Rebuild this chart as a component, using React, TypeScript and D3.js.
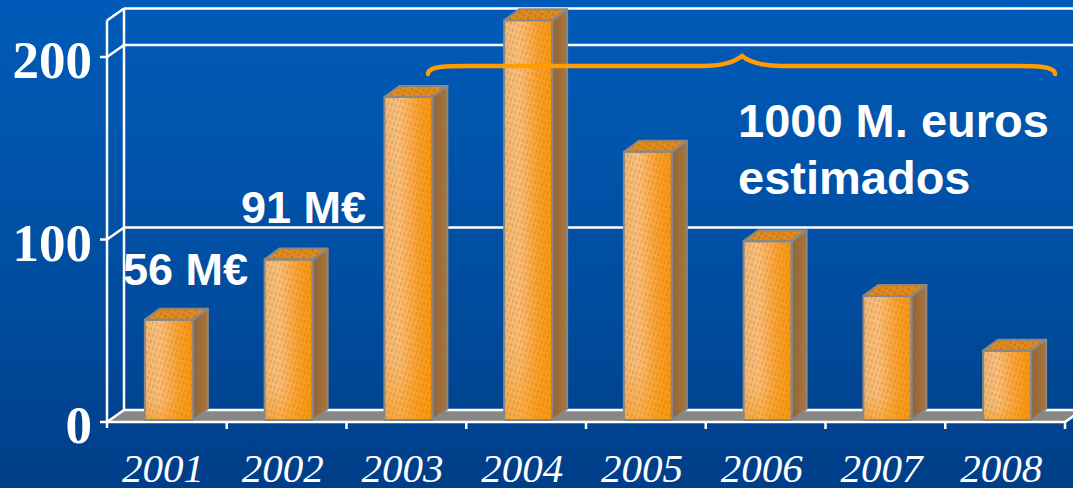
import React from 'react';
import * as d3 from 'd3';

const years = ['2001', '2002', '2003', '2004', '2005', '2006', '2007', '2008'];
const values = [55, 88, 177, 219, 147, 98, 68, 38];
const yTicks = [0, 100, 200];
const barLabels = [
  { text: '56 M€', x: 123, y: 285 },
  { text: '91 M€', x: 241, y: 223 },
];
const noteLines = ['1000 M. euros', 'estimados'];

const W = 1073;
const H = 488;
const X0 = 107;
const X1 = 1065;
const Y0 = 422;
const DX = 17; // wall depth
const DY = -12;
const BDX = 15; // bar depth
const BDY = -11;
const BAR_W = 48;

export default function App() {
  const x = d3.scaleBand<string>().domain(years).range([X0, X1]).paddingInner(0).paddingOuter(0);
  const y = d3.scaleLinear().domain([0, 220]).range([Y0, 20.5]);
  const bw = x.bandwidth();
  const top = y(220);

  const bx0 = 428, bx1 = 1055, bmid = 742, byLine = 66, byEnd = 74, byPeak = 56;
  const brace = d3.path();
  brace.moveTo(bx0, byEnd);
  brace.bezierCurveTo(bx0, byLine, bx0 + 20, byLine, bx0 + 40, byLine);
  brace.lineTo(bmid - 40, byLine);
  brace.bezierCurveTo(bmid - 15, byLine, bmid - 5, byPeak + 4, bmid, byPeak);
  brace.bezierCurveTo(bmid + 5, byPeak + 4, bmid + 15, byLine, bmid + 40, byLine);
  brace.lineTo(bx1 - 40, byLine);
  brace.bezierCurveTo(bx1 - 20, byLine, bx1, byLine, bx1, byEnd);

  return (
    <svg width={W} height={H} style={{ position: 'absolute', left: 0, top: 0 }}>
      <defs>
        <linearGradient id="bg" x1="0" y1="0" x2="0" y2="1">
          <stop offset="0" stopColor="#005bb8" />
          <stop offset="0.6" stopColor="#004d9f" />
          <stop offset="1" stopColor="#003e88" />
        </linearGradient>
        <linearGradient id="front" x1="0" y1="0" x2="1" y2="0">
          <stop offset="0" stopColor="#f4b870" />
          <stop offset="0.3" stopColor="#ffc078" />
          <stop offset="0.7" stopColor="#ffa026" />
          <stop offset="1" stopColor="#ff9600" />
        </linearGradient>
        <linearGradient id="frontV" x1="0" y1="0" x2="0" y2="1">
          <stop offset="0" stopColor="#ff9900" stopOpacity="0" />
          <stop offset="0.8" stopColor="#ff9900" stopOpacity="0.05" />
          <stop offset="1" stopColor="#ff9900" stopOpacity="0.5" />
        </linearGradient>
        <linearGradient id="side" x1="0" y1="0" x2="1" y2="0">
          <stop offset="0" stopColor="#8e643a" />
          <stop offset="1" stopColor="#b07430" />
        </linearGradient>
        <pattern id="hatch" width="4" height="6" patternUnits="userSpaceOnUse" patternTransform="rotate(18)">
          <line x1="1" y1="0" x2="1" y2="4" stroke="#85786c" strokeWidth="1" strokeOpacity="0.55" />
        </pattern>
        <pattern id="cross" width="5" height="5" patternUnits="userSpaceOnUse" patternTransform="rotate(30)">
          <rect x="0" y="0" width="2.5" height="2.5" fill="#9a6a30" fillOpacity="0.5" />
        </pattern>
      </defs>

      <rect x={0} y={0} width={W} height={H} fill="url(#bg)" />

      <path
        d={`M${X0},${Y0} L${X1},${Y0} L${X1 + DX},${Y0 + DY} L${X0 + DX},${Y0 + DY} Z`}
        fill="#878787"
      />

      <g stroke="#ffffff" strokeWidth={2.5} fill="none">
        {[...yTicks, 220].map((t) => (
          <line key={'g' + t} x1={X0 + DX} x2={W + 20} y1={y(t) + DY} y2={y(t) + DY} />
        ))}
        {[...yTicks, 220].map((t) => (
          <line key={'s' + t} x1={X0} x2={X0 + DX} y1={y(t)} y2={y(t) + DY} />
        ))}
        <line x1={X0 + DX} x2={X0 + DX} y1={top + DY} y2={Y0 + DY} />
        <line x1={X0} x2={X0} y1={top} y2={Y0 + 6} />
        <line x1={X0} x2={X1} y1={Y0} y2={Y0} />
        <line x1={X1} x2={X1 + DX} y1={Y0} y2={Y0 + DY} />
        {yTicks.map((t) => (
          <line key={'t' + t} x1={X0 - 7} x2={X0} y1={y(t)} y2={y(t)} />
        ))}
        {years.slice(1).concat(['end']).map((yr, i) => {
          const xx = X0 + (i + 1) * bw;
          return <line key={'xt' + yr} x1={xx} x2={xx} y1={Y0} y2={Y0 + 7} />;
        })}
      </g>

      {years.map((yr, i) => {
        const fx = (x(yr) as number) + (bw - BAR_W) / 2 + 2;
        const base = y(0) - 2;
        const ty = y(values[i]) - 2;
        const fw = BAR_W;
        const sidePath = `M${fx + fw},${ty} L${fx + fw + BDX},${ty + BDY} L${fx + fw + BDX},${base + BDY} L${fx + fw},${base} Z`;
        const topPath = `M${fx},${ty} L${fx + BDX},${ty + BDY} L${fx + fw + BDX},${ty + BDY} L${fx + fw},${ty} Z`;
        return (
          <g key={yr}>
            <path d={sidePath} fill="url(#side)" />
            <path d={sidePath} fill="url(#hatch)" />
            <path d={topPath} fill="#e48a1a" />
            <path d={topPath} fill="url(#cross)" />
            <rect x={fx} y={ty} width={fw} height={base - ty} fill="url(#front)" />
            <rect x={fx} y={ty} width={fw} height={base - ty} fill="url(#frontV)" />
            <rect x={fx} y={ty} width={fw} height={base - ty} fill="url(#hatch)" />
            <g fill="none" stroke="#888888" strokeWidth={2} strokeLinejoin="round">
              <path d={sidePath} />
              <path d={topPath} />
              <rect x={fx} y={ty} width={fw} height={base - ty} />
            </g>
          </g>
        );
      })}

      <path d={brace.toString()} fill="none" stroke="#ff9c00" strokeWidth={4.5} strokeLinecap="round" />

      {yTicks.map((t) => (
        <text
          key={'yl' + t}
          x={92}
          y={y(t) + 21}
          textAnchor="end"
          fill="#ffffff"
          fontFamily="'Liberation Serif', 'Times New Roman', serif"
          fontWeight="bold"
          fontSize={53}
        >
          {t}
        </text>
      ))}

      {years.map((yr) => (
        <text
          key={'xl' + yr}
          x={(x(yr) as number) + bw / 2 - 4}
          y={482}
          textAnchor="middle"
          fill="#ffffff"
          fontFamily="'Liberation Serif', 'Times New Roman', serif"
          fontStyle="italic"
          fontSize={41}
        >
          {yr}
        </text>
      ))}

      {barLabels.map((l) => (
        <text
          key={l.text}
          x={l.x}
          y={l.y}
          fill="#ffffff"
          fontFamily="'Liberation Sans', Arial, sans-serif"
          fontWeight="bold"
          fontSize={45}
        >
          {l.text}
        </text>
      ))}
      {noteLines.map((line, i) => (
        <text
          key={line}
          x={738}
          y={137 + i * 57}
          fill="#ffffff"
          fontFamily="'Liberation Sans', Arial, sans-serif"
          fontWeight="bold"
          fontSize={47}
        >
          {line}
        </text>
      ))}
    </svg>
  );
}
